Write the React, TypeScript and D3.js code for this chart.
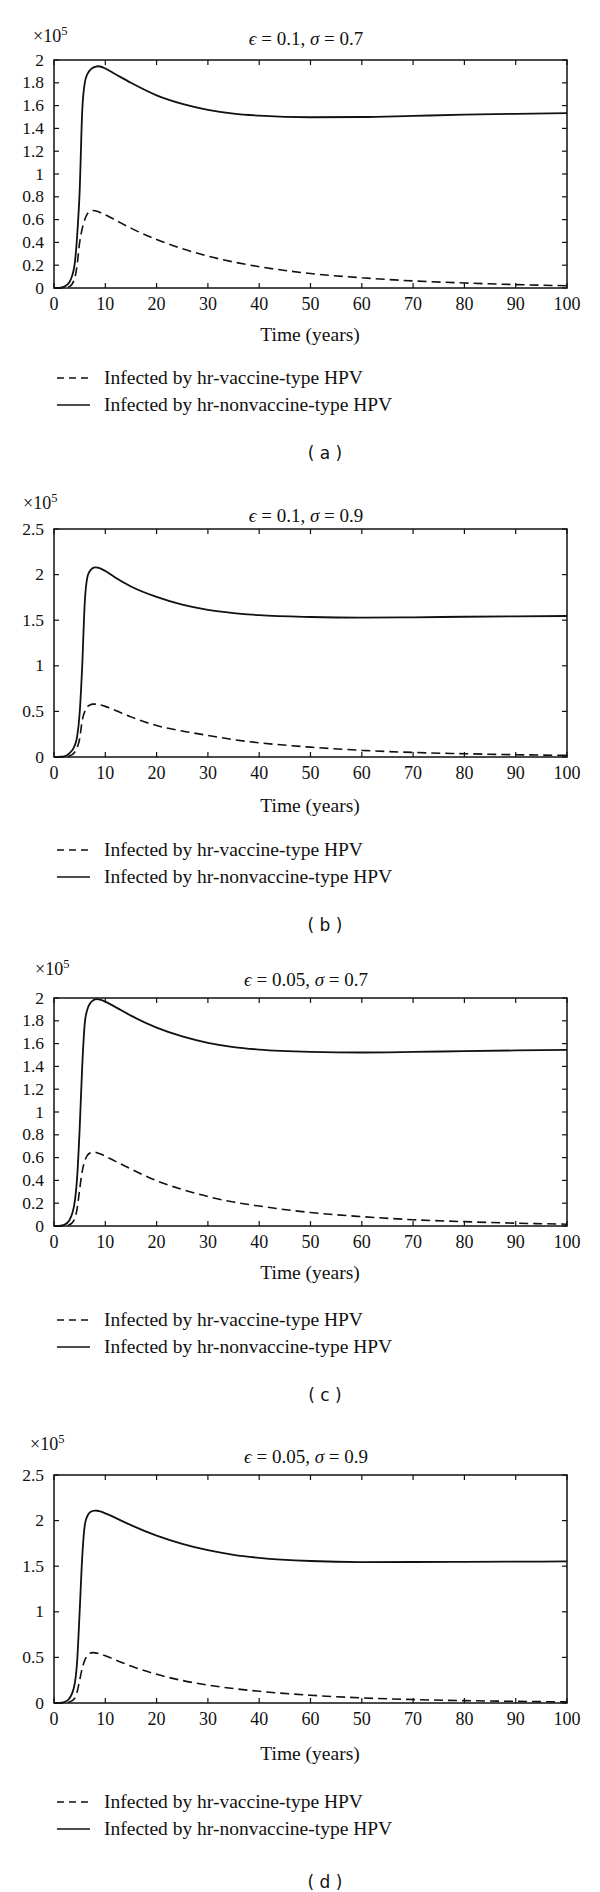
import React from "react";
import * as d3 from "d3";

// ---------- DATA ----------
const TIME = [0, 1, 2, 3, 4, 4.5, 5, 5.5, 6, 6.5, 7, 7.5, 8, 8.5, 9, 10, 12, 15, 20, 25, 30, 35, 40, 50, 60, 70, 80, 90, 100];

const vaccineA = [0, 0, 0.002, 0.012, 0.08, 0.2, 0.4, 0.52, 0.6, 0.65, 0.672, 0.68, 0.678, 0.672, 0.663, 0.642, 0.595, 0.525, 0.425, 0.345, 0.28, 0.228, 0.187, 0.127, 0.09, 0.062, 0.044, 0.03, 0.02];
const nonvaccineA = [0, 0.002, 0.012, 0.05, 0.2, 0.45, 0.85, 1.55, 1.8, 1.875, 1.91, 1.93, 1.94, 1.945, 1.943, 1.925, 1.875, 1.8, 1.69, 1.615, 1.563, 1.53, 1.512, 1.498, 1.5, 1.51, 1.52, 1.528, 1.534];

const vaccineB = [0, 0, 0.002, 0.01, 0.05, 0.1, 0.2, 0.4, 0.5, 0.55, 0.57, 0.58, 0.58, 0.576, 0.571, 0.555, 0.51, 0.44, 0.345, 0.285, 0.237, 0.19, 0.156, 0.108, 0.073, 0.05, 0.036, 0.025, 0.018];
const nonvaccineB = [0, 0.002, 0.008, 0.04, 0.12, 0.22, 0.48, 1.0, 1.7, 1.97, 2.04, 2.07, 2.08, 2.077, 2.068, 2.04, 1.965, 1.87, 1.755, 1.67, 1.613, 1.578, 1.555, 1.535, 1.528, 1.532, 1.538, 1.543, 1.546];

const vaccineC = [0, 0, 0.002, 0.01, 0.06, 0.15, 0.32, 0.48, 0.57, 0.62, 0.64, 0.648, 0.647, 0.641, 0.633, 0.612, 0.567, 0.5, 0.397, 0.32, 0.258, 0.21, 0.175, 0.118, 0.082, 0.055, 0.038, 0.025, 0.016];
const nonvaccineC = [0, 0.002, 0.01, 0.05, 0.2, 0.42, 0.85, 1.4, 1.78, 1.9, 1.95, 1.975, 1.988, 1.99, 1.985, 1.968, 1.92, 1.845, 1.74, 1.663, 1.607, 1.57, 1.548, 1.528, 1.522, 1.527, 1.534, 1.54, 1.545];

const vaccineD = [0, 0, 0.002, 0.01, 0.05, 0.12, 0.25, 0.38, 0.47, 0.52, 0.545, 0.552, 0.55, 0.545, 0.538, 0.517, 0.472, 0.405, 0.315, 0.247, 0.196, 0.158, 0.128, 0.085, 0.056, 0.038, 0.026, 0.018, 0.012];
const nonvaccineD = [0, 0.002, 0.01, 0.05, 0.2, 0.45, 1.0, 1.6, 1.95, 2.05, 2.09, 2.105, 2.11, 2.108, 2.1, 2.08, 2.03, 1.95, 1.835, 1.745, 1.675, 1.625, 1.592, 1.557, 1.545, 1.546, 1.548, 1.55, 1.552];

const X_TICKS = [0, 10, 20, 30, 40, 50, 60, 70, 80, 90, 100];
const X_LABELS_STD = ["0", "10", "20", "30", "40", "50", "60", "70", "80", "90", "100"];
const X_LABELS_D = ["0", "10", "20", "30", "40", "60", "50", "70", "80", "90", "100"];

const Y_TICKS_2 = [0, 0.2, 0.4, 0.6, 0.8, 1, 1.2, 1.4, 1.6, 1.8, 2];
const Y_LABELS_2 = ["0", "0.2", "0.4", "0.6", "0.8", "1", "1.2", "1.4", "1.6", "1.8", "2"];
const Y_TICKS_25 = [0, 0.5, 1, 1.5, 2, 2.5];
const Y_LABELS_25 = ["0", "0.5", "1", "1.5", "2", "2.5"];

const EPSILONS = ["0.1", "0.1", "0.05", "0.05"];
const SIGMAS = ["0.7", "0.9", "0.7", "0.9"];
const SUB_LABELS = ["a", "b", "c", "d"];
const LEGEND = ["Infected by hr-vaccine-type HPV", "Infected by hr-nonvaccine-type HPV"];

// ---------- LAYOUT ----------
const W = 600;
const H = 1892;
const LEFT = 54;
const RIGHT = 567;
const PLOT_H = 228;
const TOPS = [60, 529, 998, 1475];
const EXP_X = [33, 23, 35, 30];
const EXP_DY = [18, 20, 23, 25];
const TITLE_DY = [15, 7, 12, 12];
const TIME_DY = [281, 283, 281, 285];
const LEG_DY = [318, 321, 322, 327];
const SUB_DY = [393, 396, 397, 407];

const SERIF = "'Liberation Serif', 'Times New Roman', serif";
const SANS = "'DejaVu Sans', Verdana, sans-serif";

const panels = [
  { vac: vaccineA, non: nonvaccineA, yMax: 2, yT: Y_TICKS_2, yL: Y_LABELS_2, xL: X_LABELS_STD },
  { vac: vaccineB, non: nonvaccineB, yMax: 2.5, yT: Y_TICKS_25, yL: Y_LABELS_25, xL: X_LABELS_STD },
  { vac: vaccineC, non: nonvaccineC, yMax: 2, yT: Y_TICKS_2, yL: Y_LABELS_2, xL: X_LABELS_STD },
  { vac: vaccineD, non: nonvaccineD, yMax: 2.5, yT: Y_TICKS_25, yL: Y_LABELS_25, xL: X_LABELS_D },
];

function Panel({ i }: { i: number }) {
  const p = panels[i];
  const top = TOPS[i];
  const bottom = top + PLOT_H;
  const x = d3.scaleLinear().domain([0, 100]).range([LEFT, RIGHT]);
  const y = d3.scaleLinear().domain([0, p.yMax]).range([bottom, top]);
  const line = d3
    .line<number>()
    .x((_, k) => x(TIME[k]))
    .y((v) => y(v))
    .curve(d3.curveMonotoneX);
  const tl = 5;
  const legY = top + LEG_DY[i];
  return (
    <g>
      <path d={line(p.non) || ""} fill="none" stroke="#111" strokeWidth={1.8} />
      <path d={line(p.vac) || ""} fill="none" stroke="#111" strokeWidth={1.6} strokeDasharray="9,5" />
      <rect x={LEFT} y={top} width={RIGHT - LEFT} height={PLOT_H} fill="none" stroke="#111" strokeWidth={1.5} />
      {X_TICKS.map((t, k) => (
        <g key={"x" + k}>
          <line x1={x(t)} x2={x(t)} y1={bottom} y2={bottom - tl} stroke="#111" strokeWidth={1.2} />
          <line x1={x(t)} x2={x(t)} y1={top} y2={top + tl} stroke="#111" strokeWidth={1.2} />
          <text x={x(t)} y={bottom + 22} textAnchor="middle" fontFamily={SERIF} fontSize={18} fill="#111">
            {p.xL[k]}
          </text>
        </g>
      ))}
      {p.yT.map((v, k) => (
        <g key={"y" + k}>
          <line x1={LEFT} x2={LEFT + tl} y1={y(v)} y2={y(v)} stroke="#111" strokeWidth={1.2} />
          <line x1={RIGHT} x2={RIGHT - tl} y1={y(v)} y2={y(v)} stroke="#111" strokeWidth={1.2} />
          <text x={LEFT - 10} y={y(v) + 5.5} textAnchor="end" fontFamily={SERIF} fontSize={17.5} fill="#111">
            {p.yL[k]}
          </text>
        </g>
      ))}
      <text x={EXP_X[i]} y={top - EXP_DY[i]} fontFamily={SERIF} fontSize={18} fill="#111">
        ×10
        <tspan dy={-7} fontSize={12.5}>5</tspan>
      </text>
      <text x={306} y={top - TITLE_DY[i]} textAnchor="middle" fontFamily={SERIF} fontSize={19} fill="#111">
        <tspan fontStyle="italic">ϵ</tspan>
        {" = " + EPSILONS[i] + ", "}
        <tspan fontStyle="italic">σ</tspan>
        {" = " + SIGMAS[i]}
      </text>
      <text x={310} y={top + TIME_DY[i]} textAnchor="middle" fontFamily={SERIF} fontSize={19.5} fill="#111">
        Time (years)
      </text>
      <line x1={57} x2={90} y1={legY} y2={legY} stroke="#111" strokeWidth={1.4} strokeDasharray="7,5" />
      <text x={104} y={legY + 6} fontFamily={SERIF} fontSize={19.5} fill="#111">
        {LEGEND[0]}
      </text>
      <line x1={57} x2={90} y1={legY + 27} y2={legY + 27} stroke="#111" strokeWidth={1.4} />
      <text x={104} y={legY + 33} fontFamily={SERIF} fontSize={19.5} fill="#111">
        {LEGEND[1]}
      </text>
      <text x={325} y={top + SUB_DY[i] + 6} textAnchor="middle" fontFamily={SANS} fontSize={17} fill="#111">
        {"( " + SUB_LABELS[i] + " )"}
      </text>
    </g>
  );
}

export default function App() {
  return (
    <svg
      width={W}
      height={H}
      viewBox={`0 0 ${W} ${H}`}
      style={{ position: "absolute", left: 0, top: 0, background: "#fff" }}
    >
      <rect x={0} y={0} width={W} height={H} fill="#fff" />
      {panels.map((_, i) => (
        <Panel key={i} i={i} />
      ))}
    </svg>
  );
}
